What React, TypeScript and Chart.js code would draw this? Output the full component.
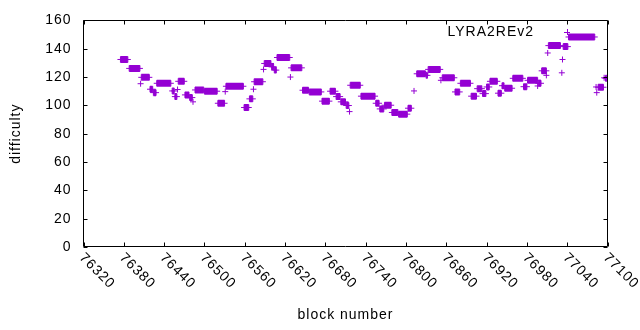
import React, { useEffect, useRef } from 'react';
import { Chart, registerables } from 'chart.js';

Chart.register(...registerables);

const seriesName = 'LYRA2REv2';
const xTitle = 'block number';
const yTitle = 'difficulty';
const xTicks = [76320, 76380, 76440, 76500, 76560, 76620, 76680, 76740, 76800, 76860, 76920, 76980, 77040, 77100];
const yTicks = [0, 20, 40, 60, 80, 100, 120, 140, 160];

// runs of consecutive blocks sharing one difficulty value (start block, end block, value)
const runStart = [76375, 76388, 76405, 76406, 76419, 76424, 76429, 76452, 76456, 76460, 76461, 76471, 76478, 76483, 76486, 76500, 76520, 76531, 76532, 76559, 76567, 76573, 76574, 76588, 76589, 76600, 76604, 76608, 76628, 76629, 76646, 76656, 76675, 76687, 76696, 76703, 76711, 76716, 76717, 76733, 76755, 76761, 76768, 76779, 76789, 76803, 76812, 76816, 76830, 76833, 76852, 76854, 76873, 76881, 76897, 76906, 76914, 76920, 76925, 76937, 76943, 76947, 76959, 76975, 76981, 76996, 76997, 77002, 77009, 77011, 77012, 77032, 77033, 77034, 77042, 77083, 77084, 77086, 77095, 77097];
const runEnd = [76386, 76404, 76405, 76418, 76423, 76428, 76450, 76455, 76459, 76460, 76470, 76477, 76482, 76483, 76499, 76519, 76530, 76531, 76558, 76566, 76572, 76573, 76587, 76588, 76599, 76603, 76607, 76627, 76628, 76645, 76655, 76674, 76686, 76695, 76702, 76710, 76715, 76716, 76732, 76754, 76760, 76767, 76778, 76788, 76802, 76808, 76812, 76829, 76832, 76851, 76852, 76872, 76880, 76896, 76905, 76913, 76919, 76924, 76936, 76942, 76946, 76958, 76974, 76980, 76996, 76996, 77001, 77009, 77009, 77011, 77030, 77032, 77033, 77041, 77081, 77083, 77084, 77094, 77095, 77099];
const runValue = [132.4, 126.1, 115.3, 119.8, 111.4, 109, 115.6, 110.2, 106.2, 111.2, 117, 107.4, 105.5, 102.5, 110.9, 110, 101.5, 109.7, 113.5, 98.5, 104.6, 111.4, 116.7, 125.4, 129.6, 127.2, 124.9, 133.8, 120, 126.5, 110.7, 109.5, 103, 110, 106.2, 102.5, 99.9, 95.6, 114.2, 106.5, 101.5, 97.5, 100.1, 95, 93.8, 98, 110.2, 122.3, 121.2, 125.4, 117.7, 119.5, 109.5, 115.6, 106.5, 111.8, 108.3, 113, 117, 108.6, 113.9, 112.1, 119.1, 113.2, 117.7, 113.7, 115.6, 124.4, 121.2, 137, 142.2, 123, 132.4, 141.5, 148.3, 113, 109, 112.8, 119.5, 119.1];

const COLOR = '#9400d3';
const FONT = '"Liberation Sans", Arial, Helvetica, sans-serif';
const FS = 14;

function buildPoints() {
  const pts: { x: number; y: number | null }[] = [];
  runStart.forEach((s, i) => {
    pts.push({ x: s, y: runValue[i] });
    if (runEnd[i] !== s) pts.push({ x: runEnd[i], y: runValue[i] });
    pts.push({ x: runEnd[i], y: null });
  });
  return pts;
}

const framePlugin = {
  id: 'gnuFrame',
  beforeLayout(chart: any) {
    chart.ctx.letterSpacing = '1px';
  },
  beforeDraw(chart: any) {
    const ctx = chart.ctx;
    ctx.save();
    ctx.fillStyle = '#fff';
    ctx.fillRect(0, 0, chart.width, chart.height);
    ctx.restore();
    ctx.letterSpacing = '1px';
  },
  afterDraw(chart: any) {
    const ctx = chart.ctx;
    const a = chart.chartArea;
    const xs = chart.scales.x;
    const ys = chart.scales.y;
    ctx.save();
    ctx.letterSpacing = '1px';
    ctx.strokeStyle = '#000';
    ctx.lineWidth = 1;
    const L = Math.floor(a.left) + 0.5;
    const R = Math.floor(a.right) + 0.5;
    const T = Math.floor(a.top) + 0.5;
    const B = Math.floor(a.bottom) - 0.5;
    ctx.beginPath();
    ctx.rect(L, T, R - L, B - T);
    const tl = 4;
    xTicks.forEach((v) => {
      const px = Math.round(xs.getPixelForValue(v)) + 0.5;
      ctx.moveTo(px, B);
      ctx.lineTo(px, B - tl);
      ctx.moveTo(px, T);
      ctx.lineTo(px, T + tl);
    });
    yTicks.forEach((v) => {
      const py = Math.round(ys.getPixelForValue(v)) + 0.5;
      ctx.moveTo(L, py);
      ctx.lineTo(L + tl, py);
      ctx.moveTo(R, py);
      ctx.lineTo(R - tl, py);
    });
    ctx.stroke();

    ctx.fillStyle = '#000';
    ctx.font = `${FS}px ${FONT}`;
    ctx.textAlign = 'left';
    ctx.textBaseline = 'middle';
    xTicks.forEach((v) => {
      const px = xs.getPixelForValue(v);
      ctx.save();
      ctx.translate(px - 2, a.bottom + 8.5);
      ctx.rotate(Math.PI / 4);
      ctx.fillText(String(v), 0, 0);
      ctx.restore();
    });

    // key
    ctx.textAlign = 'right';
    ctx.fillText(seriesName, 534, 32);
    ctx.strokeStyle = COLOR;
    ctx.beginPath();
    ctx.moveTo(564, 32.5);
    ctx.lineTo(570, 32.5);
    ctx.moveTo(567.5, 29);
    ctx.lineTo(567.5, 35);
    ctx.stroke();
    ctx.restore();
  },
};

export default function App() {
  const ref = useRef<HTMLCanvasElement>(null);
  useEffect(() => {
    document.body.style.margin = '0';
    const canvas = ref.current;
    if (!canvas) return;
    const chart = new Chart(canvas, {
      type: 'scatter',
      data: {
        datasets: [
          {
            label: seriesName,
            data: buildPoints() as any,
            showLine: true,
            spanGaps: false,
            borderColor: COLOR,
            backgroundColor: COLOR,
            borderWidth: 7,
            borderCapStyle: 'butt',
            tension: 0,
            pointStyle: 'cross',
            pointRadius: 3,
            pointHoverRadius: 3,
            pointBorderWidth: 1,
            pointBorderColor: COLOR,
          } as any,
        ],
      },
      options: {
        responsive: false,
        animation: false,
        devicePixelRatio: 1,
        events: [],
        layout: { padding: { top: 19, right: 32.5, left: 0, bottom: 0 } },
        plugins: {
          legend: { display: false },
          tooltip: { enabled: false },
        },
        scales: {
          x: {
            type: 'linear',
            min: 76320,
            max: 77100,
            grid: { display: false, drawTicks: false },
            border: { display: false },
            ticks: { display: false, stepSize: 60 },
            title: {
              display: true,
              text: xTitle,
              color: '#000',
              font: { family: FONT, size: FS },
              padding: { top: 0, bottom: 6 },
            },
            afterFit(scale: any) {
              scale.height = 83;
            },
          },
          y: {
            type: 'linear',
            min: 0,
            max: 160,
            grid: { display: false, drawTicks: false },
            border: { display: false },
            ticks: {
              stepSize: 20,
              color: '#000',
              padding: 12,
              font: { family: FONT, size: FS },
            },
            title: {
              display: true,
              text: yTitle,
              color: '#000',
              font: { family: FONT, size: FS },
              padding: { top: 8, bottom: 0 },
            },
            afterFit(scale: any) {
              scale.width = 83.5;
            },
          },
        },
      },
      plugins: [framePlugin],
    });
    return () => chart.destroy();
  }, []);
  return (
    <div style={{ position: 'absolute', left: 0, top: 0, width: 640, height: 330, background: '#fff' }}>
      <canvas ref={ref} width={640} height={330} style={{ display: 'block' }} />
    </div>
  );
}
